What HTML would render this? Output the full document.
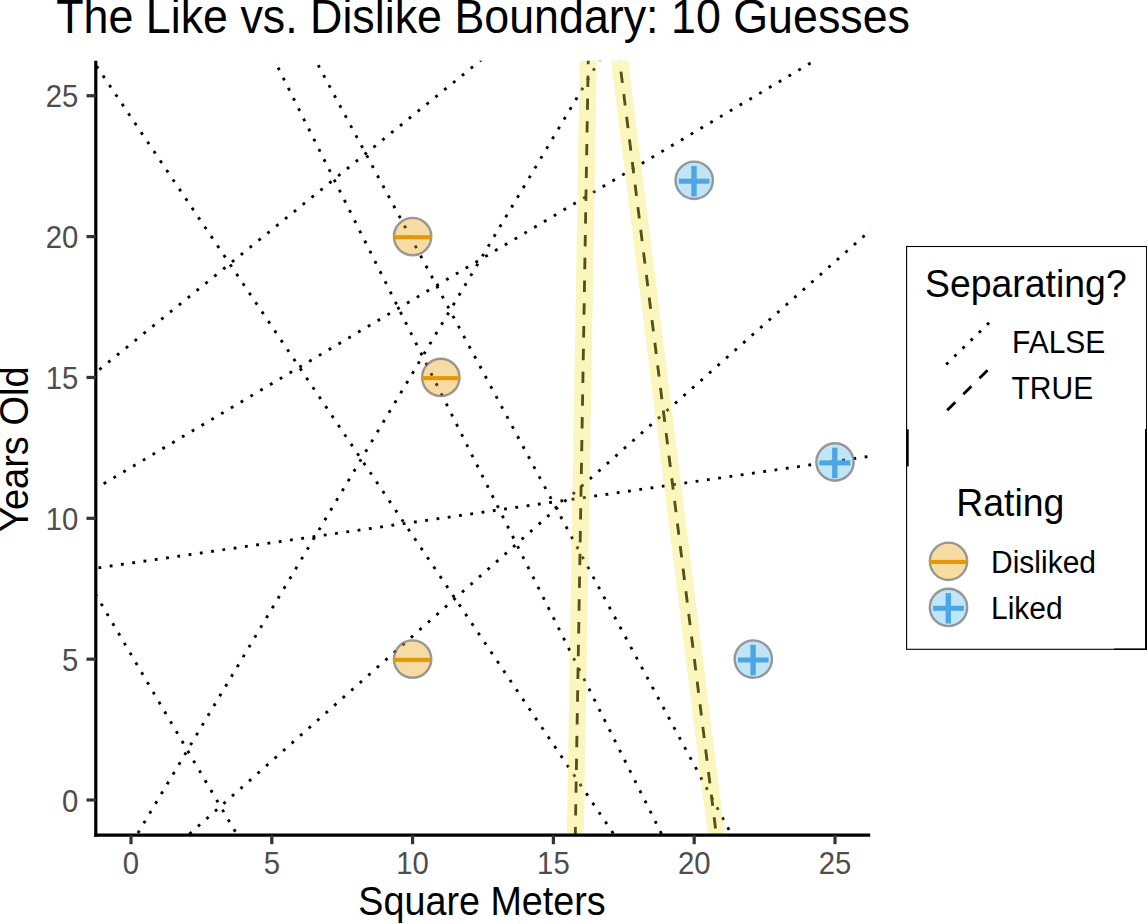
<!DOCTYPE html>
<html><head><meta charset="utf-8"><style>
html,body{margin:0;padding:0;background:#fff;}
svg{display:block;}
text{font-family:"Liberation Sans",sans-serif;}
.title{font-size:44.8px;fill:#000;}
.ax{font-size:37.7px;fill:#000;}
.tk{font-size:29.3px;fill:#4D4D4D;}
.lt{font-size:37.4px;fill:#000;}
.lb{font-size:30px;fill:#000;}
</style></head><body>
<svg width="1147" height="924" viewBox="0 0 1147 924">
<rect width="1147" height="924" fill="#fff"/>
<defs><clipPath id="pc"><rect x="95.8" y="60.8" width="774.40" height="774.40"/></clipPath></defs>
<g clip-path="url(#pc)">
<line x1="-679.22" y1="-1085.98" x2="996.42" y2="1402.44" stroke="#000" stroke-width="2.846" stroke-dasharray="2.846 8.539"/>
<line x1="-348.54" y1="-1184.70" x2="993.94" y2="1498.16" stroke="#000" stroke-width="2.846" stroke-dasharray="2.846 8.539"/>
<line x1="-344.60" y1="-1168.45" x2="1075.26" y2="1474.28" stroke="#000" stroke-width="2.846" stroke-dasharray="2.846 8.539"/>
<line x1="-988.49" y1="1251.41" x2="1341.94" y2="-637.79" stroke="#000" stroke-width="2.846" stroke-dasharray="2.846 8.539"/>
<line x1="-1099.70" y1="1199.77" x2="1478.38" y2="-334.34" stroke="#000" stroke-width="2.846" stroke-dasharray="2.846 8.539"/>
<line x1="-1287.52" y1="768.13" x2="1681.62" y2="338.93" stroke="#000" stroke-width="2.846" stroke-dasharray="2.846 8.539"/>
<line x1="-579.94" y1="2035.43" x2="957.98" y2="-540.38" stroke="#000" stroke-width="2.846" stroke-dasharray="2.846 8.539"/>
<line x1="-858.52" y1="1762.84" x2="1386.47" y2="-227.14" stroke="#000" stroke-width="2.846" stroke-dasharray="2.846 8.539"/>
<line x1="-609.24" y1="-603.19" x2="912.55" y2="1982.18" stroke="#000" stroke-width="2.846" stroke-dasharray="2.846 8.539"/>
<line x1="611.63" y1="-1335.90" x2="561.40" y2="1663.68" stroke="#000" stroke-width="2.846" stroke-dasharray="11.385 11.385"/>
<line x1="445.99" y1="-1329.26" x2="817.84" y2="1647.61" stroke="#000" stroke-width="2.846" stroke-dasharray="11.385 11.385"/>
<line x1="611.63" y1="-1335.90" x2="561.40" y2="1663.68" stroke="#F0E442" stroke-width="17" stroke-opacity="0.35"/>
<line x1="445.99" y1="-1329.26" x2="817.84" y2="1647.61" stroke="#F0E442" stroke-width="17" stroke-opacity="0.35"/>
</g>
<circle cx="412.6" cy="236.6" r="18.7" fill="#E69F00" fill-opacity="0.36" stroke="#7a7a7a" stroke-opacity="0.75" stroke-width="2.4"/><rect x="393.1" y="235.2" width="37.7" height="4.1" fill="#E3980A"/>
<circle cx="440.8" cy="377.4" r="18.7" fill="#E69F00" fill-opacity="0.36" stroke="#7a7a7a" stroke-opacity="0.75" stroke-width="2.4"/><rect x="421.3" y="376.1" width="37.7" height="4.1" fill="#E3980A"/>
<circle cx="412.6" cy="659.1" r="18.7" fill="#E69F00" fill-opacity="0.36" stroke="#7a7a7a" stroke-opacity="0.75" stroke-width="2.4"/><rect x="393.1" y="657.8" width="37.7" height="4.1" fill="#E3980A"/>
<circle cx="694.2" cy="180.3" r="18.7" fill="#56B4E9" fill-opacity="0.36" stroke="#7a7a7a" stroke-opacity="0.75" stroke-width="2.4"/><rect x="678.9" y="178.7" width="30.6" height="5" fill="#4BA6E3"/><rect x="691.3" y="166.0" width="5.4" height="30.4" fill="#4BA6E3"/>
<circle cx="835.0" cy="462.0" r="18.7" fill="#56B4E9" fill-opacity="0.36" stroke="#7a7a7a" stroke-opacity="0.75" stroke-width="2.4"/><rect x="819.7" y="460.4" width="30.6" height="5" fill="#4BA6E3"/><rect x="832.1" y="447.7" width="5.4" height="30.4" fill="#4BA6E3"/>
<circle cx="753.3" cy="659.1" r="18.7" fill="#56B4E9" fill-opacity="0.36" stroke="#7a7a7a" stroke-opacity="0.75" stroke-width="2.4"/><rect x="738.0" y="657.5" width="30.6" height="5" fill="#4BA6E3"/><rect x="750.4" y="644.9" width="5.4" height="30.4" fill="#4BA6E3"/>
<line x1="95.8" y1="60.8" x2="95.8" y2="836.7" stroke="#000" stroke-width="3.2" stroke-linecap="butt"/>
<line x1="94.3" y1="835.2" x2="870.2" y2="835.2" stroke="#000" stroke-width="3.2"/>
<line x1="131.00" y1="835.2" x2="131.00" y2="844.2" stroke="#333" stroke-width="3.2"/>
<text transform="translate(131.00,874.00) scale(1,1.055)" class="tk" text-anchor="middle">0</text>
<line x1="86.5" y1="800.00" x2="95.8" y2="800.00" stroke="#333" stroke-width="3.2"/>
<text transform="translate(78.40,811.70) scale(1,1.055)" class="tk" text-anchor="end">0</text>
<line x1="271.80" y1="835.2" x2="271.80" y2="844.2" stroke="#333" stroke-width="3.2"/>
<text transform="translate(271.80,874.00) scale(1,1.055)" class="tk" text-anchor="middle">5</text>
<line x1="86.5" y1="659.15" x2="95.8" y2="659.15" stroke="#333" stroke-width="3.2"/>
<text transform="translate(78.40,670.85) scale(1,1.055)" class="tk" text-anchor="end">5</text>
<line x1="412.60" y1="835.2" x2="412.60" y2="844.2" stroke="#333" stroke-width="3.2"/>
<text transform="translate(412.60,874.00) scale(1,1.055)" class="tk" text-anchor="middle">10</text>
<line x1="86.5" y1="518.30" x2="95.8" y2="518.30" stroke="#333" stroke-width="3.2"/>
<text transform="translate(78.40,530.00) scale(1,1.055)" class="tk" text-anchor="end">10</text>
<line x1="553.40" y1="835.2" x2="553.40" y2="844.2" stroke="#333" stroke-width="3.2"/>
<text transform="translate(553.40,874.00) scale(1,1.055)" class="tk" text-anchor="middle">15</text>
<line x1="86.5" y1="377.45" x2="95.8" y2="377.45" stroke="#333" stroke-width="3.2"/>
<text transform="translate(78.40,389.15) scale(1,1.055)" class="tk" text-anchor="end">15</text>
<line x1="694.20" y1="835.2" x2="694.20" y2="844.2" stroke="#333" stroke-width="3.2"/>
<text transform="translate(694.20,874.00) scale(1,1.055)" class="tk" text-anchor="middle">20</text>
<line x1="86.5" y1="236.60" x2="95.8" y2="236.60" stroke="#333" stroke-width="3.2"/>
<text transform="translate(78.40,248.30) scale(1,1.055)" class="tk" text-anchor="end">20</text>
<line x1="835.00" y1="835.2" x2="835.00" y2="844.2" stroke="#333" stroke-width="3.2"/>
<text transform="translate(835.00,874.00) scale(1,1.055)" class="tk" text-anchor="middle">25</text>
<line x1="86.5" y1="95.75" x2="95.8" y2="95.75" stroke="#333" stroke-width="3.2"/>
<text transform="translate(78.40,107.45) scale(1,1.055)" class="tk" text-anchor="end">25</text>
<text transform="translate(56.20,33.00) scale(1,1.055)" class="title">The Like vs. Dislike Boundary: 10 Guesses</text>
<text transform="translate(482.00,914.50) scale(1,1.055)" class="ax" text-anchor="middle">Square Meters</text>
<text transform="translate(28.10,449.20) rotate(-90) scale(1,1.055)" class="ax" text-anchor="middle" style="font-size:38px">Years Old</text>
<rect x="906.6" y="246.5" width="240" height="402.8" fill="#fff" stroke="#000" stroke-width="1.1"/>
<line x1="907.7" y1="429.3" x2="907.7" y2="466.4" stroke="#000" stroke-width="2"/>
<line x1="1146" y1="429" x2="1146" y2="650" stroke="#000" stroke-width="2"/>
<line x1="1114" y1="649.3" x2="1147" y2="649.3" stroke="#000" stroke-width="1.6"/>
<text transform="translate(925.00,296.70) scale(1,1.055)" class="lt">Separating?</text>
<line x1="946.2" y1="364.4" x2="990" y2="321.9" stroke="#000" stroke-width="2.846" stroke-dasharray="2.846 8.539"/>
<line x1="947.2" y1="410.3" x2="988.9" y2="368.8" stroke="#000" stroke-width="2.846" stroke-dasharray="11.385 11.385"/>
<text transform="translate(1012.00,352.70) scale(1,1.055)" class="lb">FALSE</text>
<text transform="translate(1011.50,399.10) scale(1,1.055)" class="lb">TRUE</text>
<text transform="translate(956.20,516.30) scale(1,1.055)" class="lt">Rating</text>
<circle cx="948.5" cy="561.3" r="18.7" fill="#E69F00" fill-opacity="0.36" stroke="#7a7a7a" stroke-opacity="0.75" stroke-width="2.4"/><rect x="929.0" y="559.9" width="37.7" height="4.1" fill="#E3980A"/>
<circle cx="948.5" cy="607.4" r="18.7" fill="#56B4E9" fill-opacity="0.36" stroke="#7a7a7a" stroke-opacity="0.75" stroke-width="2.4"/><rect x="933.2" y="605.8" width="30.6" height="5" fill="#4BA6E3"/><rect x="945.6" y="593.1" width="5.4" height="30.4" fill="#4BA6E3"/>
<text transform="translate(991.00,573.40) scale(1,1.055)" class="lb">Disliked</text>
<text transform="translate(991.00,619.30) scale(1,1.055)" class="lb">Liked</text>
</svg>
</body></html>
